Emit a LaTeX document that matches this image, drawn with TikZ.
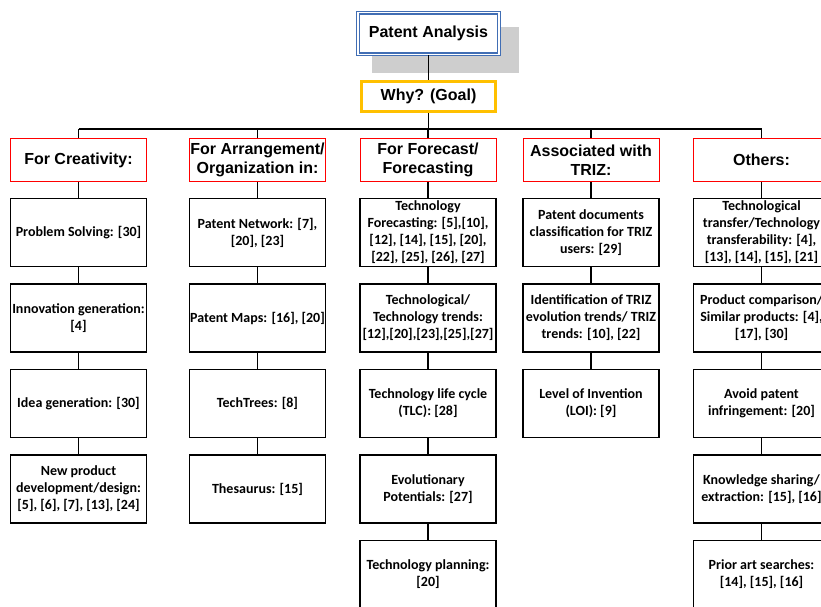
\documentclass[tikz,border=0pt]{standalone}
\usepackage{fontspec}
\newfontfamily\hfont{Liberation Sans}
\newfontfamily\cfont{Carlito}
\definecolor{pablue}{RGB}{65,110,180}
\definecolor{goldc}{RGB}{255,192,0}
\definecolor{shadowgray}{RGB}{206,206,206}
\definecolor{hdrred}{RGB}{255,0,0}
\tikzset{
  pa/.style={draw=pablue, line width=1.4pt, double=white, double distance=1.3pt, fill=white,
    minimum width=141pt, minimum height=41.5pt, inner sep=0pt,
    font=\hfont\bfseries\fontsize{16}{19}\selectfont},
  goal/.style={draw=goldc, line width=3pt, fill=white, minimum width=134pt, minimum height=30pt,
    inner sep=0pt, font=\hfont\bfseries\fontsize{16}{19}\selectfont},
  hdr/.style={draw=hdrred, line width=1pt, fill=white, minimum width=136pt, minimum height=43pt,
    inner sep=0pt, align=center, font=\hfont\bfseries\fontsize{16}{19.5}\selectfont},
  item/.style={draw=black, line width=1.2pt, fill=white, minimum width=136pt, minimum height=68pt,
    inner sep=0pt, align=center, font=\cfont\bfseries\fontsize{14}{17}\selectfont},
  conn/.style={draw=black, line width=1.2pt}
}
\begin{document}
\begin{tikzpicture}[x=1pt,y=-1pt]
\useasboundingbox (0,0) rectangle (821,606);
\clip (0,0) rectangle (821,606);
\fill[shadowgray] (372,27) rectangle (519,73);
% bar coordinates
\coordinate (b1) at (78.5,129);
\coordinate (b2) at (257.5,129);
\coordinate (b3) at (428,129);
\coordinate (b4) at (591,129);
\coordinate (b5) at (761.5,129);
\draw[conn] (b1) -- (b5);
\node[pa] (pa) at (428.5,33.5) {Patent Analysis};
\node[goal] (why) at (428.5,96.5) {Why? (Goal)};
% headers
\node[hdr] (h1) at (78.5,160) {For Creativity:};
\node[hdr] (h2) at (257.5,160) {For Arrangement/\\Organization in:};
\node[hdr] (h3) at (428,160) {For Forecast/\\Forecasting};
\node[hdr] (h4) at (591,160) {Associated with\\TRIZ:};
\node[hdr] (h5) at (761.5,160) {Others:};
% column 1
\node[item] (a1) at (78.5,232.5) {Problem Solving: [30]};
\node[item] (a2) at (78.5,318) {Innovation generation:\\{}[4]};
\node[item] (a3) at (78.5,403.5) {Idea generation: [30]};
\node[item] (a4) at (78.5,489) {New product\\development/design:\\{}[5], [6], [7], [13], [24]};
% column 2
\node[item] (c1) at (257.5,232.5) {Patent Network: [7],\\{}[20], [23]};
\node[item] (c2) at (257.5,318) {Patent Maps: [16], [20]};
\node[item] (c3) at (257.5,403.5) {TechTrees: [8]};
\node[item] (c4) at (257.5,489) {Thesaurus: [15]};
% column 3
\node[item] (d1) at (428,232.5) {Technology\\Forecasting: [5],[10],\\{}[12], [14], [15], [20],\\{}[22], [25], [26], [27]};
\node[item] (d2) at (428,318) {Technological/\\Technology trends:\\{}[12],[20],[23],[25],[27]};
\node[item] (d3) at (428,403.5) {Technology life cycle\\(TLC): [28]};
\node[item] (d4) at (428,489) {Evolutionary\\Potentials: [27]};
\node[item] (d5) at (428,574.5) {Technology planning:\\{}[20]};
% column 4
\node[item] (e1) at (591,232.5) {Patent documents\\classification for TRIZ\\users: [29]};
\node[item] (e2) at (591,318) {Identification of TRIZ\\evolution trends/ TRIZ\\trends: [10], [22]};
\node[item] (e3) at (591,403.5) {Level of Invention\\(LOI): [9]};
% column 5
\node[item] (f1) at (761.5,232.5) {Technological\\transfer/Technology\\transferability: [4],\\{}[13], [14], [15], [21]};
\node[item] (f2) at (761.5,318) {Product comparison/\\Similar products: [4],\\{}[17], [30]};
\node[item] (f3) at (761.5,403.5) {Avoid patent\\infringement: [20]};
\node[item] (f4) at (761.5,489) {Knowledge sharing/\\extraction: [15], [16]};
\node[item] (f5) at (761.5,574.5) {Prior art searches:\\{}[14], [15], [16]};
% vertical connectors
\draw[conn] (pa.south) -- (why.north);
\draw[conn] (why.south) -- (why.south |- b3);
\draw[conn] (b1) -- (h1.north);
\draw[conn] (b2) -- (h2.north);
\draw[conn] (b3) -- (h3.north);
\draw[conn] (b4) -- (h4.north);
\draw[conn] (b5) -- (h5.north);
\draw[conn] (h1) -- (a1); \draw[conn] (a1) -- (a2); \draw[conn] (a2) -- (a3); \draw[conn] (a3) -- (a4);
\draw[conn] (h2) -- (c1); \draw[conn] (c1) -- (c2); \draw[conn] (c2) -- (c3); \draw[conn] (c3) -- (c4);
\draw[conn] (h3) -- (d1); \draw[conn] (d1) -- (d2); \draw[conn] (d2) -- (d3); \draw[conn] (d3) -- (d4); \draw[conn] (d4) -- (d5);
\draw[conn] (h4) -- (e1); \draw[conn] (e1) -- (e2); \draw[conn] (e2) -- (e3);
\draw[conn] (h5) -- (f1); \draw[conn] (f1) -- (f2); \draw[conn] (f2) -- (f3); \draw[conn] (f3) -- (f4); \draw[conn] (f4) -- (f5);
\end{tikzpicture}
\end{document}
